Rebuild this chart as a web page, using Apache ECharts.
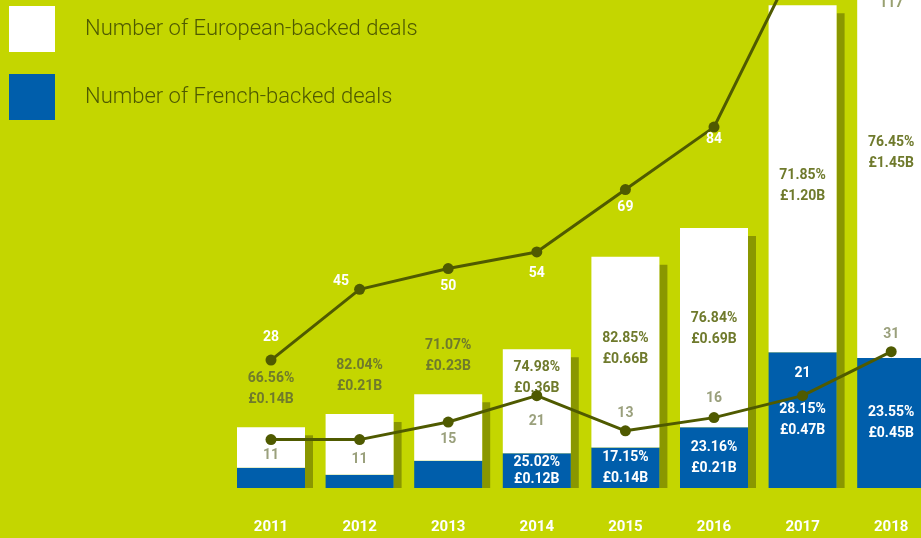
<!DOCTYPE html>
<html>
<head>
<meta charset="utf-8">
<script src="https://cdn.jsdelivr.net/npm/echarts@6/dist/echarts.min.js"></script>
<style>
  html, body { margin: 0; padding: 0; background: #c4d600; }
  #chart { width: 921px; height: 538px; }
</style>
</head>
<body>
<div id="chart"></div>
<script>
const years = ['2011', '2012', '2013', '2014', '2015', '2016', '2017', '2018']
// funding, £B
const frenchAmount = [0.07, 0.046, 0.094, 0.12, 0.14, 0.21, 0.47, 0.45]
const europeanAmount = [0.14, 0.21, 0.23, 0.36, 0.66, 0.69, 1.20, 1.45]
// share of funding, %
const frenchShare = [null, null, null, 25.02, 17.15, 23.16, 28.15, 23.55]
const europeanShare = [66.56, 82.04, 71.07, 74.98, 82.85, 76.84, 71.85, 76.45]
// deal counts
const europeanDeals = [28, 45, 50, 54, 69, 84, 127, 117]
const frenchDeals = [11, 11, 15, 21, 13, 16, 21, 31]

// label placement (style only)
const euroBarLabelDy = [-64, -64, -64, 3, 66, 75, 155, 188]
const euroDealPos = ['top', 'left', 'bottom', 'bottom', 'bottom', 'bottom', 'bottom', 'bottom']
const euroDealDy = [-5, -8, 0, 4, 0, -5, 0, -4]
const euroDealColor = ['#fff', '#fff', '#fff', '#fff', '#fff', '#fff', '#fff', '#98a070']
const frDealPos = ['bottom', 'bottom', 'bottom', 'bottom', 'top', 'top', 'top', 'top']
const frDealDy = [-2, 2, 0, 8, 0, -2, -5, 0]
const frDealColor = ['#9aa07c', '#9aa07c', '#9aa07c', '#9aa07c', '#9aa07c', '#9aa07c', '#fff', '#9aa07c']

const LIME = '#c4d600'
const BLUE = '#005eab'
const OLIVE = '#4f5a00'
const SHADOW = '#8a9700'
const FONT = 'Roboto, "DejaVu Sans", sans-serif'

const fmtAmount = v => '£' + v.toFixed(2) + 'B'
const totals = years.map((_, i) => frenchAmount[i] + europeanAmount[i])

const chart = echarts.init(document.getElementById('chart'))

chart.setOption({
  backgroundColor: LIME,
  animation: false,
  textStyle: { fontFamily: FONT },
  // the picture is a crop: plot area runs past the top and right edges
  grid: { left: 226.7, right: -14.5, top: -90, bottom: 50, outerBoundsMode: 'none', containLabel: false },
  legend: {
    orient: 'vertical',
    left: 9,
    top: 6,
    padding: 0,
    itemWidth: 46,
    itemHeight: 46,
    itemGap: 22,
    icon: 'rect',
    selectedMode: false,
    data: ['Number of European-backed deals', 'Number of French-backed deals'],
    textStyle: { fontSize: 22, fontWeight: 300, color: '#4f5a00', fontFamily: FONT, padding: [10, 0, 0, 25] }
  },
  xAxis: {
    type: 'category',
    data: years,
    axisLine: { show: false },
    axisTick: { show: false },
    axisLabel: { color: '#fff', fontSize: 15, fontWeight: 'bold', margin: 32 }
  },
  yAxis: [
    { type: 'value', min: 0, max: 2, show: false, splitLine: { show: false } },
    { type: 'value', min: -2.76, max: 136.2, show: false, splitLine: { show: false } },
    { type: 'value', min: 0, max: 131.4, show: false, splitLine: { show: false } }
  ],
  series: [
    {
      type: 'custom',
      name: 'shadow',
      z: 1,
      data: totals.map((t, i) => [i, t]),
      renderItem: (params, api) => {
        const top = api.coord([api.value(0), api.value(1)])
        const base = api.coord([api.value(0), 0])
        return {
          type: 'rect',
          shape: { x: top[0] + 34, y: top[1] + 8, width: 8, height: base[1] - top[1] - 8 },
          style: { fill: SHADOW }
        }
      }
    },
    {
      type: 'bar',
      name: 'Number of French-backed deals',
      stack: 'amount',
      barWidth: 68,
      z: 2,
      itemStyle: { color: BLUE },
      data: frenchAmount.map((v, i) => ({
        value: v,
        label: {
          show: frenchShare[i] != null,
          position: 'inside',
          color: '#fff',
          fontSize: 14,
          fontWeight: 'bold',
          lineHeight: i === 3 ? 17 : 21,
          formatter: () => frenchShare[i].toFixed(2) + '%\n' + fmtAmount(v)
        }
      }))
    },
    {
      type: 'bar',
      name: 'Number of European-backed deals',
      stack: 'amount',
      barWidth: 68,
      z: 2,
      itemStyle: { color: '#fff' },
      data: europeanAmount.map((v, i) => ({
        value: v,
        label: {
          show: true,
          position: 'insideTop',
          offset: [0, euroBarLabelDy[i]],
          color: '#6f7a2c',
          fontSize: 14,
          fontWeight: 'bold',
          lineHeight: 21,
          formatter: () => europeanShare[i].toFixed(2) + '%\n' + fmtAmount(v)
        }
      }))
    },
    {
      type: 'line',
      name: 'European deals',
      yAxisIndex: 1,
      z: 5,
      clip: false,
      symbol: 'circle',
      symbolSize: 11,
      lineStyle: { color: OLIVE, width: 3 },
      itemStyle: { color: OLIVE },
      data: europeanDeals.map((v, i) => ({
        value: v,
        label: {
          show: true,
          position: euroDealPos[i],
          offset: [0, euroDealDy[i]],
          color: euroDealColor[i],
          fontSize: 14,
          fontWeight: 'bold'
        }
      }))
    },
    {
      type: 'line',
      name: 'French deals',
      yAxisIndex: 2,
      z: 5,
      clip: false,
      symbol: 'circle',
      symbolSize: 11,
      lineStyle: { color: OLIVE, width: 3 },
      itemStyle: { color: OLIVE },
      data: frenchDeals.map((v, i) => ({
        value: v,
        label: {
          show: true,
          position: frDealPos[i],
          offset: [0, frDealDy[i]],
          color: frDealColor[i],
          fontSize: 14,
          fontWeight: 'bold'
        }
      }))
    }
  ]
})
</script>
</body>
</html>
